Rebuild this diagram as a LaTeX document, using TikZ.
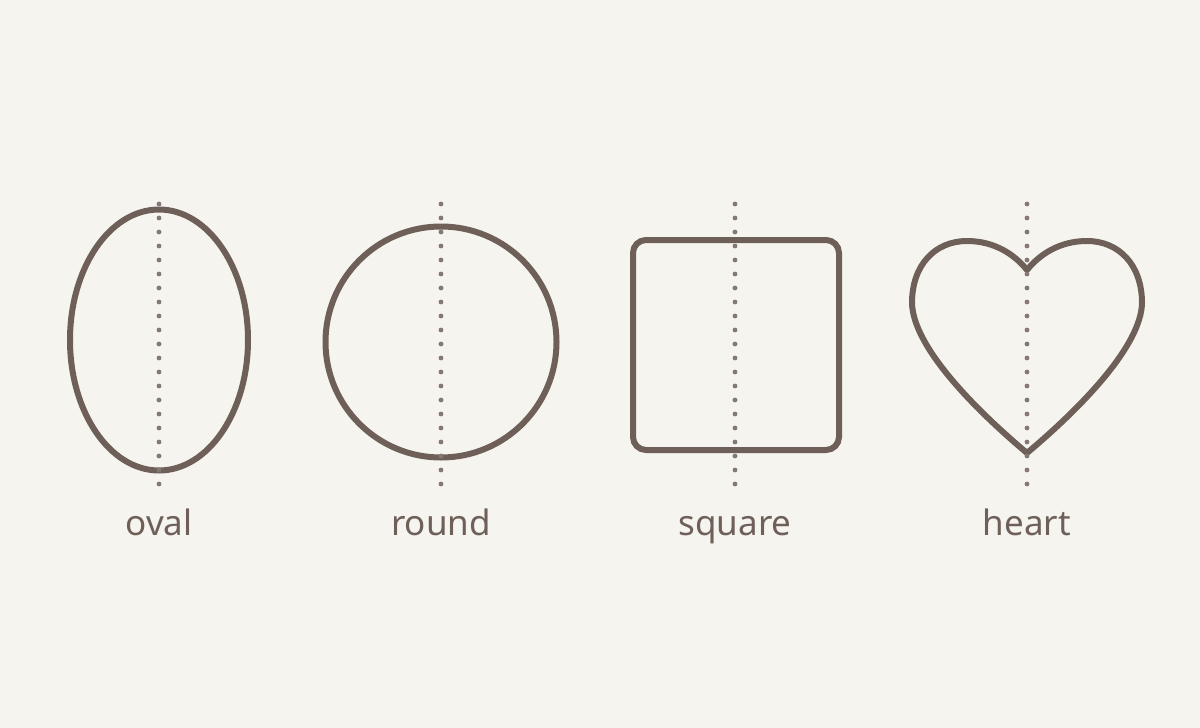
\documentclass[tikz,border=0pt]{standalone}
\usepackage{fontspec}
\setmainfont{Noto Sans}
\usetikzlibrary{shapes.geometric}
\definecolor{bgc}{HTML}{F5F4EF}
\definecolor{ink}{HTML}{6E6058}
\definecolor{dotc}{HTML}{847870}
\begin{document}
\begin{tikzpicture}[x=1pt,y=-1pt,
  outline/.style={draw=ink,line width=6pt,inner sep=0pt,outer sep=0pt},
  axisdots/.style={draw=dotc,line width=4.8pt,line cap=round,dash pattern=on 0pt off 14pt},
  lbl/.style={text=ink,anchor=base,font=\fontsize{35}{40}\selectfont}]
\fill[bgc] (0,0) rectangle (1200,728);
\useasboundingbox (0,0) rectangle (1200,728);
% shapes
\node[outline,ellipse,minimum width=178pt,minimum height=261pt] (oval) at (159,340) {};
\node[outline,circle,minimum size=231pt] (round) at (441,342) {};
\node[outline,rectangle,rounded corners=13pt,minimum width=206pt,minimum height=210pt] (square) at (736,345) {};
\draw[ink,line width=6pt,line join=round] (1027,270)
  .. controls (1015,255) and (995,241) .. (967,241)
  .. controls (935,241) and (912,265) .. (912,303)
  .. controls (913,345) and (970,405) .. (1027,453)
  .. controls (1084,405) and (1141,345) .. (1142,303)
  .. controls (1142,265) and (1119,241) .. (1087,241)
  .. controls (1059,241) and (1039,255) .. (1027,270) -- cycle;
\node[inner sep=0pt] (heart) at (1027,350) {};
% axes
\coordinate (o1) at (159,204); \coordinate (o2) at (159,485);
\coordinate (r1) at (441,204); \coordinate (r2) at (441,485);
\coordinate (s1) at (735,204); \coordinate (s2) at (735,485);
\coordinate (h1) at (1027,204); \coordinate (h2) at (1027,485);
\draw[axisdots] (o1) -- (o2);
\draw[axisdots] (r1) -- (r2);
\draw[axisdots] (s1) -- (s2);
\draw[axisdots] (h1) -- (h2);
% labels
\node[lbl] (lo) at (159,535) {oval};
\node[lbl] (lr) at (441,535) {round};
\node[lbl] (ls) at (735,535) {square};
\node[lbl] (lh) at (1027,535) {heart};
\end{tikzpicture}
\end{document}
